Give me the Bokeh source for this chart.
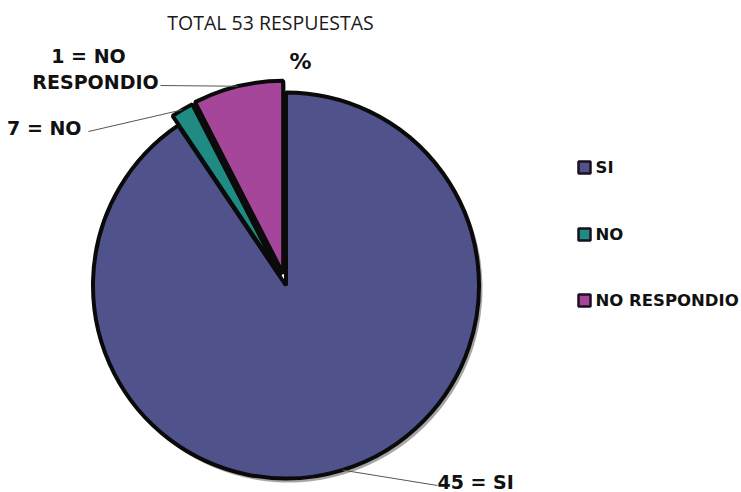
import math
from bokeh.plotting import figure
from bokeh.models import ColumnDataSource
from bokeh.core.properties import value
from bokeh.embed import file_html
from bokeh.resources import INLINE

# ---- data ----
categories = ["SI", "NO", "NO RESPONDIO"]
slice_values = [48, 1, 4]          # slice shares as drawn in the picture
slice_colors = ["#50528c", "#1f8b82", "#a5469b"]
explode = [0, 11, 12]
slice_labels = ["45 = SI", "7 = NO", "1 = NO\nRESPONDIO"]
title_text = "TOTAL 53 RESPUESTAS"
subtitle_text = "%"

W, H = 741, 492
def X(sx): return sx
def Y(sy): return H - sy

p = figure(width=W, height=H, x_range=(0, W), y_range=(0, H),
           output_backend="svg", toolbar_location=None, min_border=0)
p.axis.visible = False
p.grid.visible = False
p.outline_line_color = None
p.background_fill_color = "white"

cx, cy, r = X(285.5), Y(285), 193
total = sum(slice_values)
cum = [0.0]
for v in slice_values:
    cum.append(cum[-1] + v / total * 2 * math.pi)

starts, ends, xs, ys, mids = [], [], [], [], []
for i, v in enumerate(slice_values):
    s = math.pi / 2 - cum[i + 1]
    e = math.pi / 2 - cum[i]
    m = (s + e) / 2
    starts.append(s); ends.append(e); mids.append(m)
    xs.append(cx + explode[i] * math.cos(m))
    ys.append(cy + explode[i] * math.sin(m))

# shadow
p.wedge(x=[x + 2.5 for x in xs], y=[y - 3 for y in ys], radius=r + 1,
        start_angle=starts, end_angle=ends, fill_color="#000000", fill_alpha=0.35,
        line_color=None)

src = ColumnDataSource(dict(x=xs, y=ys, s=starts, e=ends, c=slice_colors, cat=categories))
p.wedge(x="x", y="y", radius=r, start_angle="s", end_angle="e",
        fill_color="c", line_color="#0a0a0a", line_width=4, source=src)

# leader lines + labels
line_ends = [(437, 485), (88, 131), (160, 85)]
for i in range(3):
    ax = xs[i] + r * math.cos(mids[i])
    ay = ys[i] + r * math.sin(mids[i])
    ex, ey = line_ends[i]
    p.line([ax, X(ex)], [ay, Y(ey)], line_color="#555555", line_width=1)

bold = dict(text_font=value("DejaVu Sans"), text_font_style="bold", text_color="#111111")
p.text(x=[X(437)], y=[Y(481)], text=[slice_labels[0]], text_align="left",
       text_baseline="middle", text_font_size="19px", **bold)
p.text(x=[X(81)], y=[Y(127)], text=[slice_labels[1]], text_align="right",
       text_baseline="middle", text_font_size="19px", **bold)
lines = slice_labels[2].split("\n")
p.text(x=[X(88), X(95)], y=[Y(55), Y(81)], text=lines, text_align="center",
       text_baseline="middle", text_font_size="19px", **bold)

# title and %
p.text(x=[X(270)], y=[Y(22)], text=[title_text], text_align="center",
       text_baseline="middle", text_font_size="19.5px",
       text_font=value("Open Sans"), text_font_style="normal", text_color="#1a1a1a")
p.text(x=[X(300)], y=[Y(61)], text=[subtitle_text], text_align="center",
       text_baseline="middle", text_font_size="22px", **bold)

# legend
leg_y = [167, 234, 300]
p.scatter(x=[X(584)] * 3, y=[Y(v) for v in leg_y], marker="square", size=12,
          fill_color=slice_colors, line_color="#1a1020", line_width=2.5)
p.text(x=[X(595)] * 3, y=[Y(v) for v in leg_y], text=categories, text_align="left",
       text_baseline="middle", text_font_size="16.5px", **bold)

open("out.html", "w").write(file_html(p, INLINE))
